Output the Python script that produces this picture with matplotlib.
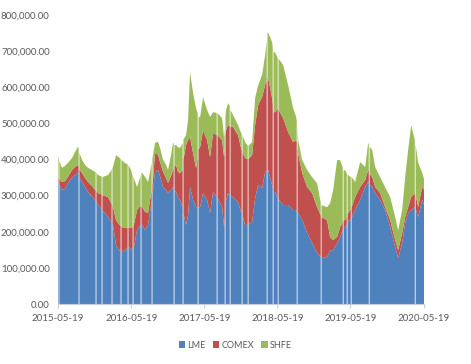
import numpy as np
import pandas as pd
import matplotlib
matplotlib.use('Agg')
import matplotlib.pyplot as plt
from matplotlib.ticker import FuncFormatter

N = np.nan

# days after 2015-05-19; NaN rows are the missing trading days (white lines)
days = [0, 3, 5, 7, 20, 35, 50, 70, 85, 100,
        103, 105, 107, 120, 135, 150, 170, 185, 188, 190,
        192, 200, 218, 220, 222, 235, 250, 268, 270, 272,
        275, 290, 305, 313, 315, 317, 320, 335, 348, 350,
        352, 365, 373, 375, 377, 395, 410, 413, 415, 417,
        420, 435, 450, 460, 468, 470, 472, 485, 500, 510,
        525, 540, 550, 565, 575, 578, 580, 582, 590, 600,
        610, 623, 625, 627, 640, 650, 660, 675, 690, 698,
        700, 702, 710, 725, 745, 760, 775, 793, 795, 797,
        810, 820, 830, 833, 835, 837, 840, 850, 858, 860,
        862, 875, 900, 918, 920, 922, 935, 948, 950, 952,
        970, 985, 1000, 1020, 1035, 1043, 1045, 1047, 1050, 1070,
        1073, 1075, 1077, 1085, 1098, 1100, 1102, 1125, 1150, 1175,
        1190, 1193, 1195, 1197, 1200, 1220, 1245, 1270, 1295, 1313,
        1315, 1317, 1320, 1345, 1360, 1375, 1395, 1410, 1423, 1425,
        1427, 1435, 1443, 1445, 1447, 1460, 1463, 1465, 1467, 1485,
        1510, 1535, 1550, 1553, 1555, 1557, 1570, 1585, 1610, 1635,
        1660, 1685, 1700, 1720, 1735, 1750, 1765, 1783, 1785, 1787,
        1800, 1820, 1830]

# stocks, thousand tonnes
lme = [338, 335, N, 330, 316, 318, 335, 349, 357, 363,
       360, N, 350, 338, 324, 310, 299, 288, 285, N,
       282, 274, 262, N, 258, 252, 241, 225, N, 220,
       219, 163, 149, 146, N, 144, 144, 149, 156, N,
       158, 152, 149, N, 150, 205, 216, 218, N, 219,
       219, 205, 219, 255, 285, N, 300, 365, 371, 354,
       324, 316, 307, 316, 324, 320, N, 315, 310, 293,
       288, 268, N, 250, 219, 246, 324, 288, 268, 268,
       N, 268, 268, 307, 288, 252, 310, 296, N, 294,
       280, 268, 213, 240, N, 270, 288, 307, 303, N,
       300, 296, 282, 250, N, 246, 219, 219, N, 220,
       227, 293, 329, 321, 365, 368, N, 371, 371, 329,
       320, N, 310, 310, 293, N, 290, 274, 274, 260,
       260, 258, N, 256, 252, 233, 197, 169, 141, 130,
       N, 127, 127, 130, 149, 149, 169, 185, 205, N,
       213, 213, 220, N, 225, 233, 235, N, 238, 260,
       288, 324, 338, 335, N, 330, 324, 307, 288, 260,
       213, 158, 127, 169, 224, 252, 260, 268, N, 265,
       241, 288, 274]

comex = [11, 12, N, 15, 22, 22, 17, 22, 22, 22,
         22, N, 23, 25, 25, 28, 28, 28, 30, N,
         31, 33, 41, N, 43, 47, 55, 52, N, 50,
         50, 69, 72, 70, N, 69, 69, 61, 55, N,
         53, 58, 64, N, 64, 55, 55, 52, N, 50,
         50, 50, 33, 33, 30, N, 28, 53, 42, 39,
         42, 33, 28, 39, 47, 55, N, 65, 75, 72,
         75, 102, N, 150, 221, 208, 138, 130, 108, 140,
         N, 160, 166, 174, 166, 155, 163, 172, N, 173,
         180, 185, 194, 194, N, 194, 194, 188, 190, N,
         192, 194, 185, 174, N, 174, 185, 182, N, 182,
         185, 202, 221, 252, 241, 250, N, 255, 255, 241,
         230, N, 221, 221, 249, N, 249, 241, 202, 188,
         194, 190, N, 180, 166, 130, 127, 138, 127, 115,
         N, 113, 113, 102, 36, 28, 17, 28, 22, N,
         19, 19, 22, N, 24, 28, 28, N, 29, 36,
         36, 19, 33, 32, N, 30, 28, 17, 19, 8,
         19, 19, 22, 28, 17, 17, 36, 39, N, 37,
         28, 36, 42]

shfe = [58, 55, N, 50, 39, 42, 39, 33, 42, 50,
        50, N, 45, 36, 36, 39, 44, 50, 50, N,
        50, 50, 50, N, 50, 55, 61, 95, N, 105,
        111, 180, 185, 185, N, 185, 185, 180, 176, N,
        174, 161, 140, N, 138, 64, 78, 88, N, 94,
        94, 97, 86, 78, 76, N, 75, 28, 36, 39,
        33, 36, 36, 58, 75, 70, N, 60, 55, 69,
        69, 75, N, 55, 28, 55, 180, 166, 166, 120,
        N, 90, 83, 91, 83, 111, 58, 61, N, 61,
        61, 61, 55, 55, N, 55, 55, 61, 55, N,
        45, 33, 28, 45, N, 47, 44, 38, N, 36,
        36, 75, 55, 61, 83, 110, N, 125, 125, 155,
        160, N, 166, 166, 138, N, 140, 147, 130, 94,
        64, 60, N, 50, 36, 36, 47, 44, 66, 35,
        N, 33, 33, 36, 94, 138, 213, 185, 150, N,
        138, 138, 120, N, 110, 91, 88, N, 85, 42,
        69, 36, 75, 75, N, 75, 75, 55, 44, 55,
        64, 64, 55, 64, 111, 158, 199, 147, N, 140,
        122, 39, 28]

tick_labels = ['2015-05-19', '2016-05-19', '2017-05-19',
               '2018-05-19', '2019-05-19', '2020-05-19']
series = ['LME', 'COMEX', 'SHFE']
colors = ['#4F81BD', '#C0504D', '#9BBB59']

assert len(days) == len(lme) == len(comex) == len(shfe)

dates = pd.Timestamp('2015-05-19') + pd.to_timedelta(days, unit='D')
vals = [np.array(s, dtype=float) * 1000 for s in (lme, comex, shfe)]

plt.rcParams['font.family'] = ['Lato', 'DejaVu Sans']

fig = plt.figure(figsize=(4.71, 3.64), dpi=100)
ax = fig.add_axes([58 / 471, 60 / 364, 366 / 471, 289 / 364])
ax.stackplot(dates, *vals, colors=colors, labels=series, linewidth=0)

ax.set_xlim(dates[0], pd.Timestamp('2020-05-21'))
ax.set_ylim(0, 800000)
ax.set_yticks(np.arange(0, 800001, 100000))
ax.yaxis.set_major_formatter(FuncFormatter(lambda v, p: '{:,.2f}'.format(v)))
ax.set_xticks(pd.to_datetime(tick_labels))
ax.set_xticklabels(tick_labels)

for s in ['top', 'right', 'left']:
    ax.spines[s].set_visible(False)
ax.spines['bottom'].set_color('#c8cfd9')
ax.tick_params(axis='x', length=3, color='#c8cfd9', labelsize=7,
               labelcolor='#595959', pad=4)
ax.tick_params(axis='y', length=0, labelsize=7, labelcolor='#595959', pad=6)

fig.legend(loc='center', bbox_to_anchor=(0.5, 19 / 364), ncol=3,
           frameon=False, fontsize=6.5, handlelength=0.7, handleheight=0.7,
           handletextpad=0.25, columnspacing=0.8, labelcolor='#595959')

fig.savefig('out.png', dpi=100)
